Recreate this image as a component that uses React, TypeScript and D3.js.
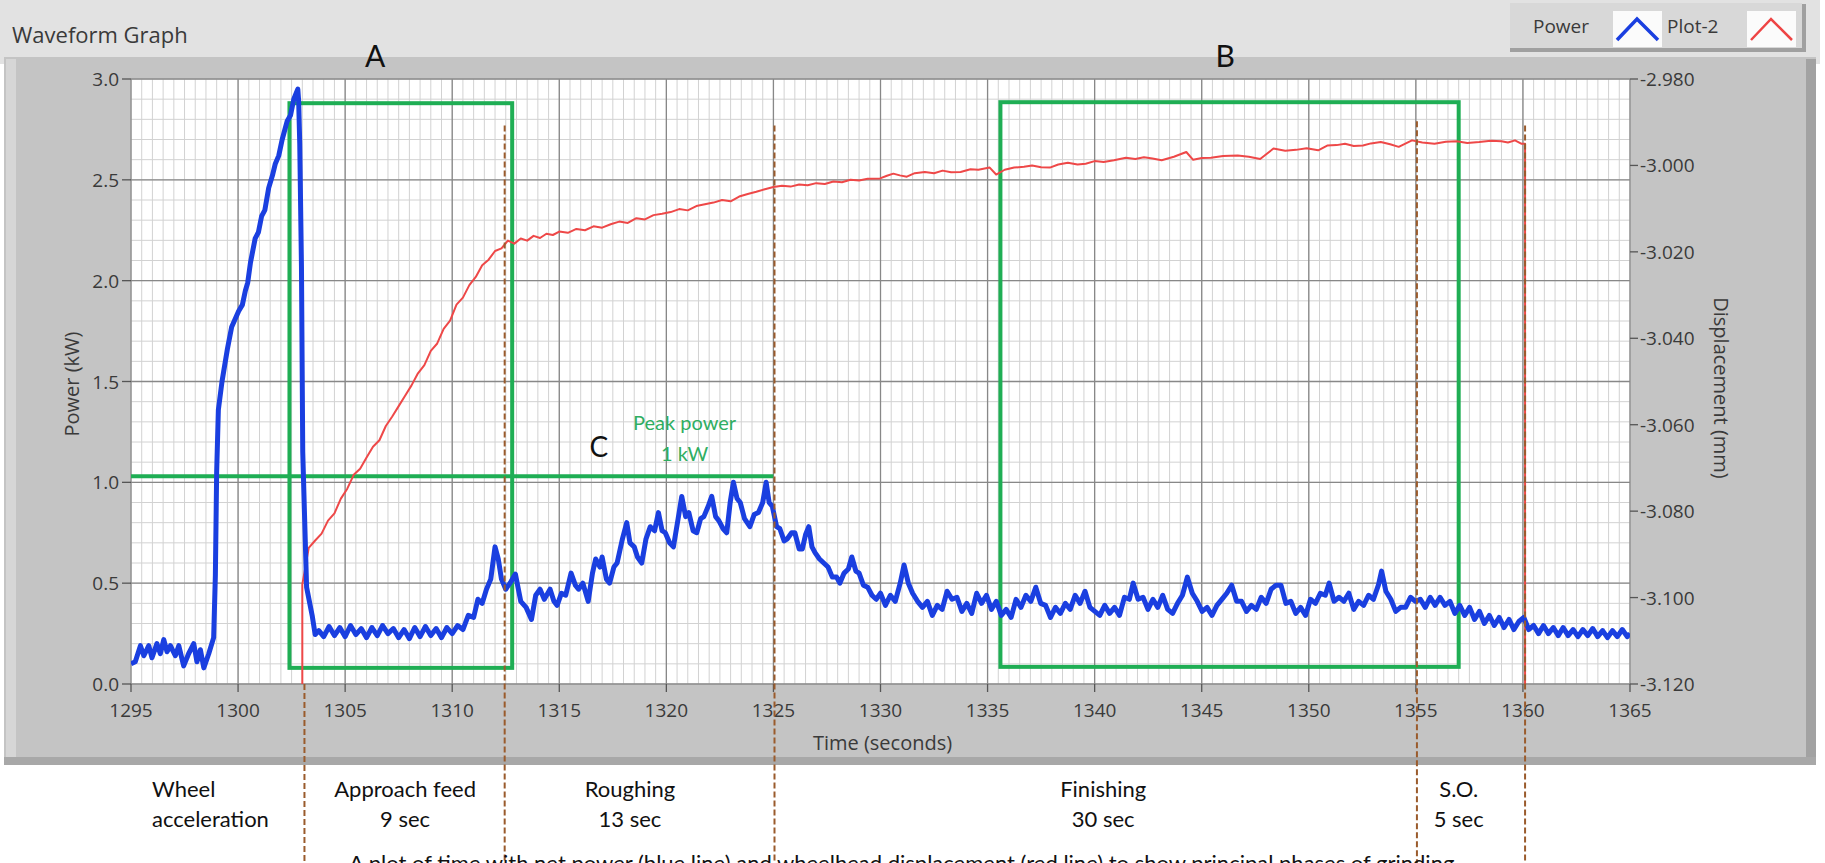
import React from 'react';
import * as d3 from 'd3';

// ---------- data ----------
const xTicks = [1295, 1300, 1305, 1310, 1315, 1320, 1325, 1330, 1335, 1340, 1345, 1350, 1355, 1360, 1365];
const powerTicks = [0, 0.5, 1.0, 1.5, 2.0, 2.5, 3.0];
const powerTickLabels = ['0.0', '0.5', '1.0', '1.5', '2.0', '2.5', '3.0'];
const dispTicks = [-3.12, -3.1, -3.08, -3.06, -3.04, -3.02, -3.0, -2.98];
const dispTickLabels = ['-3.120', '-3.100', '-3.080', '-3.060', '-3.040', '-3.020', '-3.000', '-2.980'];

const idlePower: [number, number][] = [
  [1295.0, 0.10], [1295.2, 0.11], [1295.44, 0.19], [1295.6, 0.14], [1295.83, 0.19], [1295.98, 0.13],
  [1296.21, 0.20], [1296.37, 0.15], [1296.53, 0.22], [1296.68, 0.16], [1296.84, 0.19], [1297.07, 0.14],
  [1297.23, 0.19], [1297.46, 0.09], [1297.69, 0.15], [1297.93, 0.20], [1298.08, 0.11], [1298.24, 0.17],
  [1298.4, 0.08], [1298.63, 0.15], [1298.86, 0.23],
];
const accelPower: [number, number][] = [
  [1298.94, 0.54], [1299.0, 1.05], [1299.08, 1.36], [1299.25, 1.50], [1299.5, 1.66], [1299.7, 1.77],
  [1300.03, 1.85], [1300.2, 1.88], [1300.34, 1.95], [1300.45, 1.99], [1300.58, 2.09], [1300.8, 2.21],
  [1300.95, 2.24], [1301.1, 2.32], [1301.25, 2.35], [1301.43, 2.46], [1301.6, 2.52], [1301.74, 2.58],
  [1301.9, 2.62], [1302.06, 2.70], [1302.29, 2.79], [1302.45, 2.82], [1302.6, 2.90], [1302.79, 2.95],
  [1302.83, 2.89], [1302.88, 2.68], [1302.96, 2.07], [1303.02, 1.15], [1303.1, 0.85], [1303.2, 0.48],
  [1303.46, 0.34], [1303.6, 0.245],
];
const approachPower: [number, number][] = [
  [1303.77, 0.265], [1304.0, 0.235], [1304.25, 0.285], [1304.5, 0.24], [1304.75, 0.28], [1305.0, 0.235],
  [1305.25, 0.29], [1305.5, 0.245], [1305.75, 0.275], [1306.0, 0.23], [1306.25, 0.28], [1306.5, 0.24],
  [1306.75, 0.29], [1307.0, 0.25], [1307.25, 0.275], [1307.5, 0.23], [1307.75, 0.27], [1308.0, 0.225],
  [1308.25, 0.28], [1308.5, 0.235], [1308.75, 0.285], [1309.0, 0.24], [1309.25, 0.275], [1309.5, 0.23],
  [1309.75, 0.28], [1310.0, 0.25], [1310.25, 0.29], [1310.5, 0.27], [1310.75, 0.34], [1311.0, 0.33],
  [1311.2, 0.42], [1311.4, 0.40], [1311.6, 0.47], [1311.8, 0.52], [1312.0, 0.68], [1312.15, 0.62],
  [1312.3, 0.52], [1312.5, 0.47], [1312.7, 0.50], [1312.95, 0.545], [1313.2, 0.41], [1313.45, 0.38],
  [1313.7, 0.32], [1313.9, 0.44], [1314.1, 0.47], [1314.3, 0.42],
];
const roughingPower: [number, number][] = [
  [1314.57, 0.47], [1314.75, 0.41], [1314.9, 0.39], [1315.1, 0.45], [1315.3, 0.44], [1315.55, 0.55],
  [1315.75, 0.49], [1315.9, 0.47], [1316.1, 0.50], [1316.35, 0.41], [1316.55, 0.55], [1316.7, 0.62],
  [1316.9, 0.58], [1317.0, 0.63], [1317.2, 0.52], [1317.35, 0.50], [1317.55, 0.58], [1317.7, 0.60],
  [1317.95, 0.72], [1318.15, 0.80], [1318.3, 0.70], [1318.5, 0.68], [1318.65, 0.63], [1318.85, 0.60],
  [1319.05, 0.72], [1319.25, 0.78], [1319.45, 0.76], [1319.63, 0.85], [1319.8, 0.76], [1319.95, 0.75],
  [1320.15, 0.70], [1320.33, 0.68], [1320.55, 0.82], [1320.72, 0.93], [1320.9, 0.83], [1321.05, 0.85],
  [1321.25, 0.76], [1321.42, 0.75], [1321.6, 0.82], [1321.75, 0.83], [1321.95, 0.88], [1322.12, 0.93],
  [1322.3, 0.83], [1322.45, 0.81], [1322.65, 0.77], [1322.82, 0.75], [1322.98, 0.90], [1323.13, 1.00],
  [1323.3, 0.92], [1323.45, 0.90], [1323.65, 0.82], [1323.9, 0.78], [1324.1, 0.84], [1324.3, 0.85],
  [1324.5, 0.90], [1324.66, 1.00], [1324.8, 0.90], [1324.95, 0.88], [1325.15, 0.78], [1325.3, 0.77],
  [1325.5, 0.71], [1325.65, 0.72], [1325.85, 0.75], [1326.0, 0.75], [1326.2, 0.67], [1326.35, 0.67],
  [1326.5, 0.74], [1326.65, 0.78], [1326.8, 0.68], [1326.95, 0.65], [1327.15, 0.62], [1327.35, 0.60],
  [1327.55, 0.58], [1327.75, 0.53], [1327.95, 0.53], [1328.1, 0.50], [1328.3, 0.55], [1328.5, 0.57],
  [1328.66, 0.63], [1328.85, 0.56], [1329.0, 0.55], [1329.2, 0.49], [1329.4, 0.48], [1329.6, 0.44],
  [1329.8, 0.42],
];
const finishingPower: [number, number][] = [
  [1330.0, 0.45], [1330.23, 0.39], [1330.46, 0.44], [1330.69, 0.41], [1330.92, 0.50], [1331.1, 0.59],
  [1331.3, 0.50], [1331.5, 0.45], [1331.73, 0.41], [1331.96, 0.38], [1332.19, 0.41], [1332.42, 0.34],
  [1332.65, 0.39], [1332.88, 0.37], [1333.11, 0.46], [1333.34, 0.42], [1333.57, 0.43], [1333.8, 0.36],
  [1334.03, 0.40], [1334.26, 0.35], [1334.49, 0.45], [1334.72, 0.40], [1334.95, 0.44], [1335.18, 0.37],
  [1335.41, 0.41], [1335.64, 0.34], [1335.87, 0.37], [1336.1, 0.33], [1336.33, 0.42], [1336.56, 0.38],
  [1336.79, 0.44], [1337.02, 0.41], [1337.25, 0.48], [1337.48, 0.40], [1337.71, 0.39], [1337.94, 0.33],
  [1338.17, 0.38], [1338.4, 0.35], [1338.63, 0.40], [1338.86, 0.37], [1339.09, 0.44], [1339.32, 0.40],
  [1339.55, 0.46], [1339.78, 0.38], [1340.01, 0.36], [1340.24, 0.34], [1340.47, 0.39], [1340.7, 0.35],
  [1340.93, 0.38], [1341.16, 0.34], [1341.39, 0.43], [1341.62, 0.42], [1341.8, 0.50], [1342.03, 0.42],
  [1342.26, 0.43], [1342.49, 0.37], [1342.72, 0.42], [1342.95, 0.38], [1343.18, 0.44], [1343.41, 0.37],
  [1343.64, 0.35], [1343.87, 0.40], [1344.1, 0.44], [1344.33, 0.53], [1344.56, 0.45], [1344.79, 0.41],
  [1345.02, 0.36], [1345.25, 0.38], [1345.48, 0.34], [1345.71, 0.39], [1345.94, 0.42], [1346.17, 0.45],
  [1346.4, 0.49], [1346.63, 0.41], [1346.86, 0.41], [1347.09, 0.36], [1347.32, 0.39], [1347.55, 0.37],
  [1347.78, 0.43], [1348.01, 0.40], [1348.24, 0.47], [1348.47, 0.49], [1348.7, 0.49], [1348.93, 0.40],
  [1349.16, 0.41], [1349.39, 0.35], [1349.62, 0.38], [1349.85, 0.34], [1350.08, 0.42], [1350.31, 0.40],
  [1350.54, 0.45], [1350.77, 0.44], [1350.95, 0.50], [1351.18, 0.41], [1351.41, 0.43], [1351.64, 0.41],
  [1351.87, 0.45], [1352.1, 0.37], [1352.33, 0.41], [1352.56, 0.39], [1352.79, 0.44], [1353.02, 0.42],
  [1353.25, 0.49], [1353.4, 0.56], [1353.6, 0.46], [1353.83, 0.42], [1354.06, 0.36], [1354.29, 0.38],
  [1354.52, 0.38], [1354.75, 0.43],
];
const sparkoutPower: [number, number][] = [
  [1354.98, 0.41], [1355.21, 0.42], [1355.44, 0.38], [1355.67, 0.43], [1355.9, 0.39], [1356.13, 0.43],
  [1356.36, 0.39], [1356.59, 0.41], [1356.82, 0.35], [1357.05, 0.39], [1357.28, 0.34], [1357.51, 0.38],
  [1357.74, 0.32], [1357.97, 0.36], [1358.2, 0.30], [1358.43, 0.34], [1358.66, 0.29], [1358.89, 0.33],
  [1359.12, 0.28], [1359.35, 0.32], [1359.58, 0.27], [1359.81, 0.31], [1360.04, 0.33], [1360.27, 0.27],
  [1360.5, 0.29], [1360.73, 0.25], [1360.96, 0.29], [1361.19, 0.25], [1361.42, 0.28], [1361.65, 0.24],
  [1361.88, 0.28], [1362.11, 0.24], [1362.34, 0.27], [1362.57, 0.235], [1362.8, 0.27], [1363.03, 0.24],
  [1363.26, 0.275], [1363.49, 0.235], [1363.72, 0.265], [1363.95, 0.23], [1364.18, 0.265], [1364.41, 0.235],
  [1364.64, 0.27], [1364.87, 0.235], [1365.0, 0.25],
];

const feedDisplacement: [number, number][] = [
  [1303.0, -3.14], [1303.0, -3.097], [1303.3, -3.0885], [1303.6, -3.0868], [1303.9, -3.0852], [1304.2, -3.0822],
  [1304.5, -3.0805], [1304.8, -3.0771], [1305.1, -3.0748], [1305.4, -3.0716], [1305.7, -3.0702], [1306.0, -3.0676],
  [1306.3, -3.0651], [1306.6, -3.0636], [1306.9, -3.0603], [1307.2, -3.0581], [1307.5, -3.0557], [1307.8, -3.0533],
  [1308.1, -3.0509], [1308.4, -3.0481], [1308.7, -3.0462], [1309.0, -3.0429], [1309.3, -3.0412], [1309.6, -3.0378],
  [1309.9, -3.0359], [1310.2, -3.0322], [1310.5, -3.0306], [1310.8, -3.0277], [1311.1, -3.0258], [1311.4, -3.0231],
  [1311.7, -3.0218], [1312.0, -3.0198], [1312.3, -3.0192], [1312.6, -3.0174], [1312.9, -3.0181], [1313.2, -3.0169],
  [1313.5, -3.0174], [1313.8, -3.0163], [1314.1, -3.0168], [1314.4, -3.0158], [1314.7, -3.0161], [1315.0, -3.0153],
];
const roughDisplacement: [number, number][] = [
  [1315.4, -3.0156], [1315.8, -3.0147], [1316.2, -3.0150], [1316.6, -3.0141], [1317.0, -3.0144], [1317.4, -3.0136],
  [1317.8, -3.0130], [1318.2, -3.0133], [1318.6, -3.0122], [1319.0, -3.0125], [1319.4, -3.0115], [1319.8, -3.0112],
  [1320.2, -3.0108], [1320.6, -3.0101], [1321.0, -3.0104], [1321.4, -3.0094], [1321.8, -3.0090], [1322.2, -3.0086],
  [1322.6, -3.0080], [1323.0, -3.0083], [1323.4, -3.0072], [1323.8, -3.0066], [1324.2, -3.0061], [1324.6, -3.0055],
  [1325.0, -3.0050], [1325.4, -3.0047], [1325.8, -3.0049], [1326.2, -3.0044], [1326.6, -3.0046], [1327.0, -3.0041],
  [1327.4, -3.0043], [1327.8, -3.0037], [1328.2, -3.0039], [1328.6, -3.0033], [1329.0, -3.0035], [1329.4, -3.0031],
];
const finishDisplacement: [number, number][] = [
  [1329.98, -3.0030], [1330.3, -3.0024], [1330.6, -3.0019], [1330.9, -3.0023], [1331.23, -3.0026], [1331.6, -3.0018],
  [1332.07, -3.0015], [1332.5, -3.0018], [1332.9, -3.0012], [1333.3, -3.0016], [1333.74, -3.0015], [1334.2, -3.0009],
  [1334.57, -3.0010], [1335.1, -3.0005], [1335.4, -3.0021], [1335.8, -3.0010], [1336.24, -3.0005], [1336.7, -3.0003],
  [1337.08, -3.0000], [1337.5, -3.0004], [1337.91, -3.0005], [1338.3, -2.9998], [1338.75, -2.9994], [1339.2, -2.9998],
  [1339.58, -2.9996], [1340.0, -2.9990], [1340.42, -2.9992], [1340.9, -2.9988], [1341.46, -2.9982], [1341.9, -2.9985],
  [1342.3, -2.9981], [1342.7, -2.9984], [1343.13, -2.9988], [1343.7, -2.9980], [1344.28, -2.9969], [1344.6, -2.9987],
  [1345.0, -2.9983], [1345.43, -2.9982], [1346.0, -2.9978], [1346.68, -2.9977], [1347.2, -2.9980], [1347.73, -2.9985],
  [1348.35, -2.9961], [1348.9, -2.9966], [1349.4, -2.9964], [1349.9, -2.9960], [1350.44, -2.9965], [1350.86, -2.9954],
  [1351.3, -2.9953], [1351.69, -2.9950], [1352.1, -2.9955], [1352.53, -2.9954], [1352.9, -2.9949], [1353.36, -2.9946],
  [1353.8, -2.9951], [1354.2, -2.9957], [1354.82, -2.9942], [1355.3, -2.9947], [1355.87, -2.9950], [1356.4, -2.9945],
  [1356.91, -2.9944], [1357.4, -2.9948], [1357.96, -2.9946], [1358.5, -2.9943], [1359.0, -2.9944], [1359.3, -2.9947],
  [1359.63, -2.9942], [1359.94, -2.9950], [1360.1, -2.9950], [1360.1, -3.14],
];

// green annotation boxes: [t0, t1, p0, p1]
const boxA = [1302.4, 1312.8, 0.08, 2.88];
const boxB = [1335.6, 1357.0, 0.085, 2.885];
const peakLine = [1295, 1325.0, 1.03];

// phase boundaries (time) and the power level where each dashed line starts
const phaseBoundaries = [1303.1, 1312.45, 1325.05, 1355.05, 1360.1];
const phaseLineTops = [0, 2.77, 2.77, 2.79, 2.77];

const phaseNames = ['Approach feed', 'Roughing', 'Finishing', 'S.O.'];
const phaseDurations = ['9 sec', '13 sec', '30 sec', '5 sec'];
const phaseCenters = [1307.8, 1318.3, 1340.4, 1357.0];

// ---------- layout ----------
const W = 1825;
const H = 863;
const PL = 131, PR = 1630, PT = 79, PB = 684;

const uiFont = '"Open Sans", "Noto Sans", sans-serif';
const noteFont = 'Lato, "Open Sans", sans-serif';
const uiColor = '#3a3a3a';

export default function App() {
  const x = d3.scaleLinear().domain([1295, 1365]).range([PL, PR]);
  const yP = d3.scaleLinear().domain([0, 3]).range([PB, PT]);
  const yD = d3.scaleLinear().domain([-3.12, -2.98]).range([PB, PT]);

  const powerLine = d3.line<[number, number]>().x(d => x(d[0])).y(d => yP(d[1]));
  const dispLine = d3.line<[number, number]>().x(d => x(d[0])).y(d => yD(d[1]));

  const power = [...idlePower, ...accelPower, ...approachPower, ...roughingPower, ...finishingPower, ...sparkoutPower];
  const disp = [...feedDisplacement, ...roughDisplacement, ...finishDisplacement];

  const minorX = d3.range(1295, 1365.001, 0.5);
  const minorY = d3.range(0, 3.0001, 0.1);

  const green = '#1fae54';
  const brown = '#9a5b2c';

  return (
    <div style={{ position: 'absolute', left: 0, top: 0, width: W, height: H, background: '#fff' }}>
      <svg width={W} height={H} style={{ display: 'block' }}>
        <defs>
          <clipPath id="plotClip">
            <rect x={PL} y={PT} width={PR - PL} height={PB - PT} />
          </clipPath>
        </defs>
        {/* panel */}
        <rect x={0} y={0} width={1820} height={64} fill="#e2e2e2" />
        <rect x={4} y={57} width={1812} height={708} fill="#c4c4c4" />
        <rect x={6} y={59} width={10} height={704} fill="#d6d6d6" />
        <rect x={1806} y={59} width={10} height={706} fill="#a2a2a2" />
        <rect x={4} y={757} width={1812} height={8} fill="#a8a8a8" />
        <text x={12} y={43} fontFamily={uiFont} fontSize={22} fill={uiColor}>Waveform Graph</text>

        {/* legend */}
        <rect x={1510} y={4} width={296} height={48} fill="#a0a0a0" />
        <rect x={1510} y={3} width={292} height={45} fill="#d8d8d8" />
        <text x={1533} y={33} fontFamily={uiFont} fontSize={19} fill={uiColor}>Power</text>
        <rect x={1613} y={11} width={49} height={36} fill="#fbfbfb" />
        <polyline points="1617,40 1637,19 1658,40" fill="none" stroke="#1a3fe0" strokeWidth={3.5} />
        <text x={1667} y={33} fontFamily={uiFont} fontSize={19} fill={uiColor}>Plot-2</text>
        <rect x={1747} y={11} width={49} height={36} fill="#fbfbfb" />
        <polyline points="1751,40 1771,19 1792,40" fill="none" stroke="#ee4444" strokeWidth={2.5} />

        {/* plot area */}
        <rect x={PL} y={PT} width={PR - PL} height={PB - PT} fill="#ffffff" />
        {minorX.map((t, i) => (
          <line key={'mx' + i} x1={x(t)} x2={x(t)} y1={PT} y2={PB} stroke="#d2d2d2" strokeWidth={1} />
        ))}
        {minorY.map((p, i) => (
          <line key={'my' + i} x1={PL} x2={PR} y1={yP(p)} y2={yP(p)} stroke="#d2d2d2" strokeWidth={1} />
        ))}
        {xTicks.map(t => (
          <line key={'gx' + t} x1={x(t)} x2={x(t)} y1={PT} y2={PB} stroke="#888" strokeWidth={1.3} />
        ))}
        {powerTicks.map(p => (
          <line key={'gy' + p} x1={PL} x2={PR} y1={yP(p)} y2={yP(p)} stroke="#888" strokeWidth={1.3} />
        ))}

        {/* axes ticks & labels */}
        {powerTicks.map((p, i) => (
          <g key={'lt' + p}>
            <line x1={PL - 9} x2={PL} y1={yP(p)} y2={yP(p)} stroke="#555" strokeWidth={1.3} />
            <text x={PL - 12} y={yP(p) + 7} textAnchor="end" fontFamily={uiFont} fontSize={19} fill={uiColor}>{powerTickLabels[i]}</text>
          </g>
        ))}
        {dispTicks.map((v, i) => (
          <g key={'rt' + v}>
            <line x1={PR} x2={PR + 8} y1={yD(v)} y2={yD(v)} stroke="#555" strokeWidth={1.3} />
            <text x={PR + 10} y={yD(v) + 7} fontFamily={uiFont} fontSize={19} fill={uiColor}>{dispTickLabels[i]}</text>
          </g>
        ))}
        {xTicks.map(t => (
          <g key={'bt' + t}>
            <line x1={x(t)} x2={x(t)} y1={PB} y2={PB + 8} stroke="#555" strokeWidth={1.3} />
            <text x={x(t)} y={717} textAnchor="middle" fontFamily={uiFont} fontSize={19} fill={uiColor}>{t}</text>
          </g>
        ))}
        <text x={(PL + PR) / 2 + 2} y={750} textAnchor="middle" fontFamily={uiFont} fontSize={20} fill={uiColor}>Time (seconds)</text>
        <text transform={`translate(79,384) rotate(-90)`} textAnchor="middle" fontFamily={uiFont} fontSize={20} fill={uiColor}>Power (kW)</text>
        <text transform={`translate(1714,388) rotate(90)`} textAnchor="middle" fontFamily={uiFont} fontSize={20} fill={uiColor}>Displacement (mm)</text>

        {/* green annotations */}
        <g fill="none" stroke={green} strokeWidth={4}>
          <rect x={x(boxA[0])} y={yP(boxA[3])} width={x(boxA[1]) - x(boxA[0])} height={yP(boxA[2]) - yP(boxA[3])} />
          <rect x={x(boxB[0])} y={yP(boxB[3])} width={x(boxB[1]) - x(boxB[0])} height={yP(boxB[2]) - yP(boxB[3])} />
          <line x1={x(peakLine[0])} x2={x(peakLine[1])} y1={yP(peakLine[2])} y2={yP(peakLine[2])} />
        </g>

        {/* data */}
        <g clipPath="url(#plotClip)">
          <path d={dispLine(disp) || ''} fill="none" stroke="#ee4848" strokeWidth={2} strokeLinejoin="round" />
          <path d={powerLine(power) || ''} fill="none" stroke="#1a3fe0" strokeWidth={5} strokeLinejoin="round" />
        </g>

        {/* phase boundaries */}
        {phaseBoundaries.map((t, i) => (
          <line key={'pb' + i} x1={x(t)} x2={x(t)} y1={yP(phaseLineTops[i])} y2={H} stroke={brown} strokeWidth={2} strokeDasharray="6 3" />
        ))}

        {/* labels */}
        <text x={x(1306.4)} y={67} textAnchor="middle" fontFamily={noteFont} fontSize={30} fill="#111">A</text>
        <text x={x(1346.1)} y={67} textAnchor="middle" fontFamily={noteFont} fontSize={30} fill="#111">B</text>
        <text x={x(1316.85)} y={457} textAnchor="middle" fontFamily={noteFont} fontSize={28} fill="#111">C</text>
        <text x={x(1320.85)} y={430} textAnchor="middle" fontFamily={noteFont} fontSize={20} fill="#2fae62">Peak power</text>
        <text x={x(1320.85)} y={461} textAnchor="middle" fontFamily={noteFont} fontSize={20} fill="#2fae62">1 kW</text>

        {/* phase notes below */}
        <text x={152} y={797} fontFamily={noteFont} fontSize={22} fill="#111">Wheel</text>
        <text x={152} y={827} fontFamily={noteFont} fontSize={22} fill="#111">acceleration</text>
        {phaseNames.map((n, i) => (
          <g key={'pn' + i}>
            <text x={x(phaseCenters[i])} y={797} textAnchor="middle" fontFamily={noteFont} fontSize={22} fill="#111">{n}</text>
            <text x={x(phaseCenters[i])} y={827} textAnchor="middle" fontFamily={noteFont} fontSize={22} fill="#111">{phaseDurations[i]}</text>
          </g>
        ))}
        <text x={349} y={871} fontFamily={noteFont} fontSize={22} fill="#111">A plot of time with net power (blue line) and wheelhead displacement (red line) to show principal phases of grinding</text>
      </svg>
    </div>
  );
}
